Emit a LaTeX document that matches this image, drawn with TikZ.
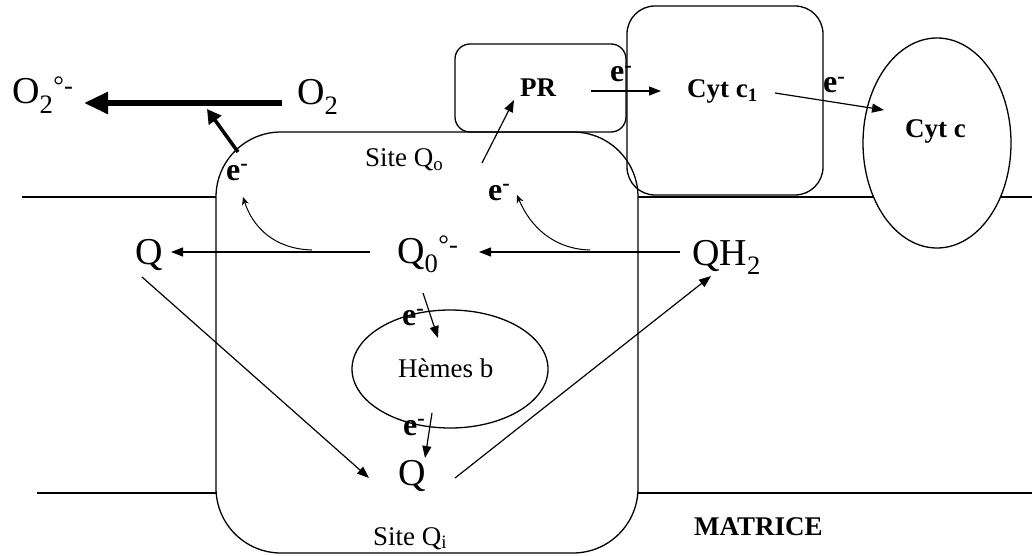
\documentclass[tikz,border=0pt]{standalone}
\usepackage{fontspec}
\setmainfont{Liberation Serif}
\usetikzlibrary{arrows.meta}
\begin{document}
\begin{tikzpicture}[x=1pt,y=-1pt,
  txt/.style={inner sep=0pt, anchor=base west},
  bigtxt/.style={txt, font=\fontsize{38}{40}\selectfont},
  smalltxt/.style={txt, font=\fontsize{27}{29}\selectfont},
  boldtxt/.style={txt, font=\bfseries\fontsize{27}{29}\selectfont},
  elab/.style={txt, font=\bfseries\fontsize{32}{34}\selectfont},
  membrane/.style={line width=1.4pt},
  boxline/.style={line width=1.3pt},
  thin/.style={line width=1.2pt, -{Triangle[length=12pt,width=9pt]}},
  curvy/.style={line width=1pt, -{Stealth[length=8pt,width=7pt]}},
  thick/.style={line width=5.5pt, -{Triangle[length=24pt,width=21pt]}},
  medthick/.style={line width=3.5pt, -{Triangle[length=14pt,width=15pt]}}
]
\useasboundingbox (0,0) rectangle (1032,556);
% membranes
\draw[membrane] (22,197) -- (216,197);
\draw[membrane] (637,197) -- (1032,197);
\draw[membrane] (37,493) -- (216,493);
\draw[membrane] (637,493) -- (1032,493);
% big complex
\draw[boxline, fill=white, rounded corners=65pt] (216,132) rectangle (638,553);
% PR box
\draw[boxline, rounded corners=15pt] (455,44) rectangle (626,132);
% Cyt c1 box
\draw[boxline, rounded corners=28pt] (627,6) rectangle (823,195);
% Cyt c ellipse
\draw[boxline, fill=white] (937,143) ellipse [x radius=74pt, y radius=105pt];
% Hemes ellipse
\draw[boxline] (450,369) ellipse [x radius=98pt, y radius=59pt];

% texts
\node[bigtxt] (o2m) at (12,104) {O\textsubscript{2}\textsuperscript{°-}};
\node[bigtxt] (o2) at (297,105) {O\textsubscript{2}};
\node[bigtxt] (qleft) at (135,264) {Q};
\node[bigtxt] (q0) at (397,263) {Q\textsubscript{0}\textsuperscript{°-}};
\node[bigtxt] (qh2) at (692,265) {QH\textsubscript{2}};
\node[bigtxt] (qbot) at (398,485) {Q};
\node[smalltxt] (siteo) at (365,167) {Site Q\textsubscript{o}};
\node[smalltxt] (sitei) at (373,545) {Site Q\textsubscript{i}};
\node[smalltxt] (hemes) at (398,377) {Hèmes b};
\node[boldtxt] (pr) at (520,97) {PR};
\node[boldtxt] (cytc1) at (687,98) {Cyt c\textsubscript{1}};
\node[boldtxt] (cytc) at (905,138) {Cyt c};
\node[boldtxt] (matrice) at (694,535) {MATRICE};
\node[elab] (e1) at (226,180) {e\textsuperscript{-}};
\node[elab] (e2) at (488,200) {e\textsuperscript{-}};
\node[elab] (e3) at (610,82) {e\textsuperscript{-}};
\node[elab] (e4) at (823,93) {e\textsuperscript{-}};
\node[elab] (e5) at (402,325) {e\textsuperscript{-}};
\node[elab] (e6) at (403,435) {e\textsuperscript{-}};

% arrows
\draw[thick] (282,103) -- (84,103);
\draw[medthick] (238,152) -- (207,109);
\draw[thin] (370,252) -- (171,252);
\draw[thin] (680,252) -- (479,252);
\draw[curvy] (312,250) .. controls (275,249) and (253,228) .. (243,197);
\draw[curvy] (590,250) .. controls (553,249) and (530,226) .. (517,195);
\draw[thin] (482,163) -- (514,100);
\draw[thin] (591,91) -- (661,91);
\draw[thin] (775,93) -- (884,110);
\draw[thin] (423,293) -- (438,338);
\draw[thin] (432,413) -- (425,458);
\draw[thin] (142,277) -- (369,478);
\draw[thin] (455,478) -- (711,276);
\end{tikzpicture}
\end{document}
